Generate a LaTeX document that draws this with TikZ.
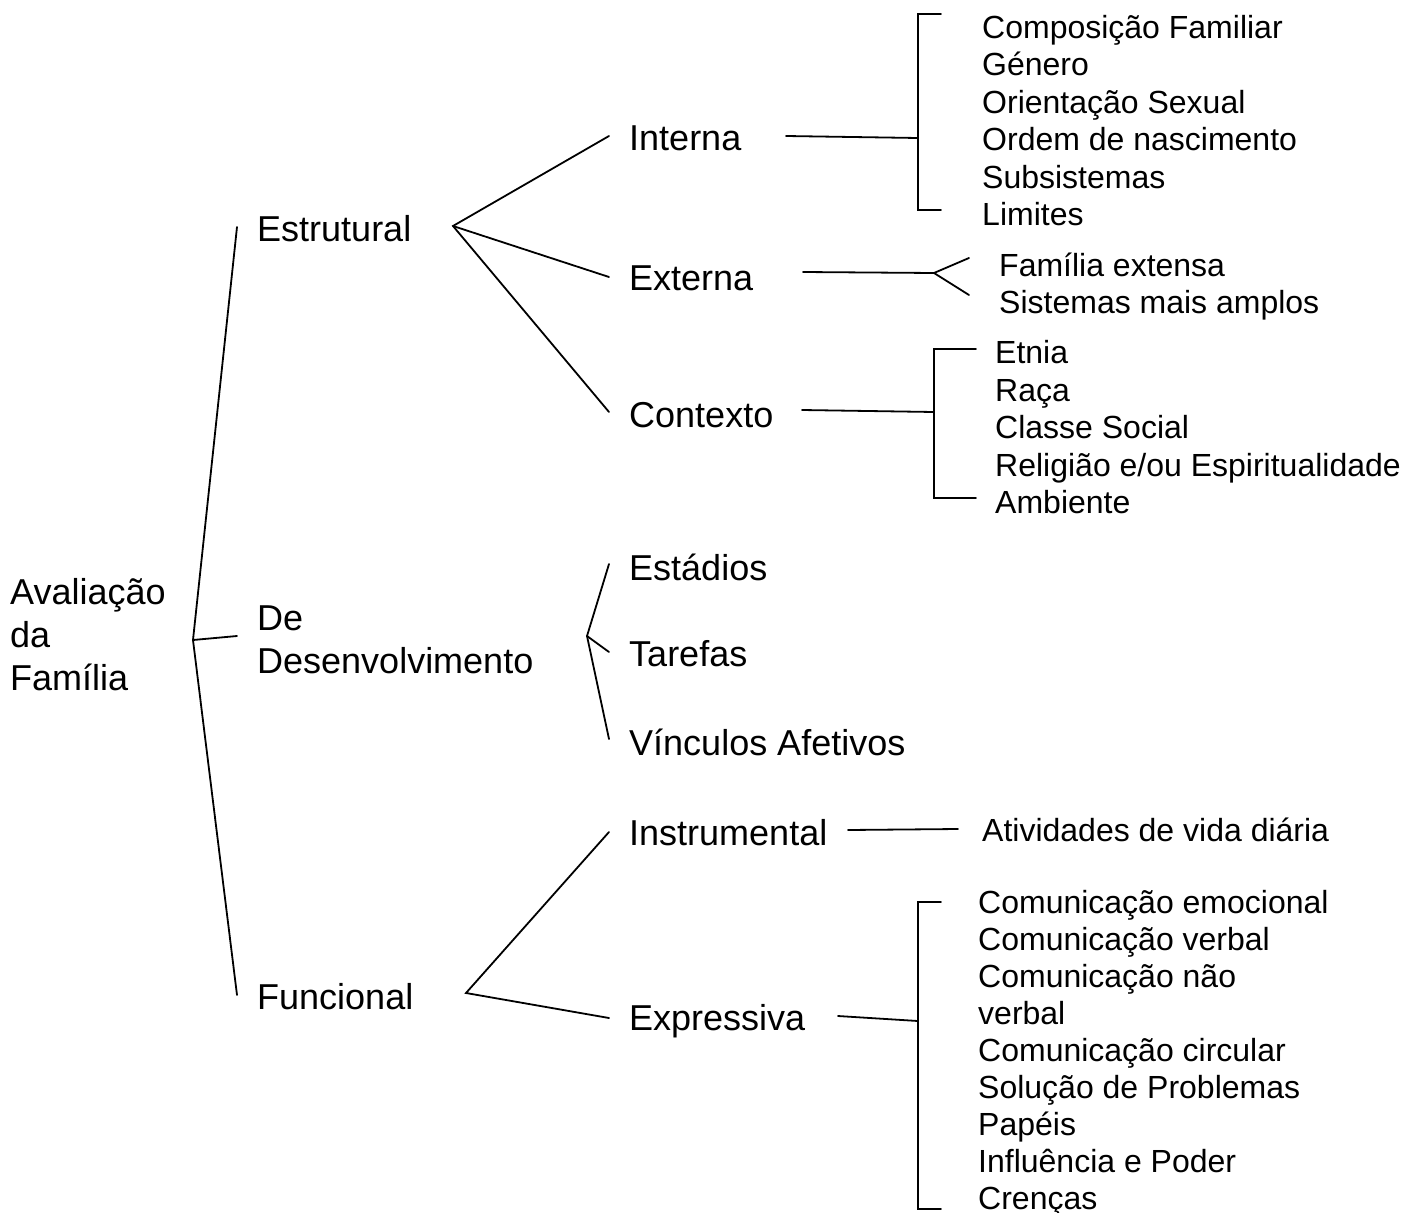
\documentclass[tikz,border=0pt]{standalone}
\usepackage{fontspec}
\setmainfont{Liberation Sans}
\begin{document}
\begin{tikzpicture}[x=1pt,y=-1pt,
  big/.style={font=\fontsize{36}{43}\selectfont, inner sep=0pt, anchor=base west, align=left},
  small/.style={font=\fontsize{32}{37.4}\selectfont, inner sep=0pt, anchor=base west, align=left},
  smallb/.style={font=\fontsize{32}{37}\selectfont, inner sep=0pt, anchor=base west, align=left},
  ln/.style={line width=1.8pt, line cap=round, line join=miter}]
\useasboundingbox (0,0) rectangle (1418,1212);

% text nodes (multi-line nodes are placed by the baseline of their last line)
\node[big] (root) at (10,690) {Avaliação\\da\\Família};
\node[big] (est) at (257,241) {Estrutural};
\node[big] (des) at (257,673) {De\\Desenvolvimento};
\node[big] (fun) at (257,1009) {Funcional};
\node[big] (int) at (629,150) {Interna};
\node[big] (ext) at (629,290) {Externa};
\node[big] (ctx) at (629,427) {Contexto};
\node[big] (esd) at (629,580) {Estádios};
\node[big] (tar) at (629,666) {Tarefas};
\node[big] (vin) at (629,755) {Vínculos Afetivos};
\node[big] (ins) at (629,845) {Instrumental};
\node[big] (exp) at (629,1030) {Expressiva};
\node[small] (intl) at (982,225.5) {Composição Familiar\\Género\\Orientação Sexual\\Ordem de nascimento\\Subsistemas\\Limites};
\node[small] (extl) at (999,313.5) {Família extensa\\Sistemas mais amplos};
\node[small] (ctxl) at (995,513.5) {Etnia\\Raça\\Classe Social\\Religião e/ou Espiritualidade\\Ambiente};
\node[small] (insl) at (982,841.5) {Atividades de vida diária};
\node[smallb] (expl) at (978,1209.5) {Comunicação emocional\\Comunicação verbal\\Comunicação não\\verbal\\Comunicação circular\\Solução de Problemas\\Papéis\\Influência e Poder\\Crenças};

% connector points
\coordinate (r0) at (193,640);
\coordinate (rt) at (237,227);
\coordinate (rd) at (237,636);
\coordinate (rb) at (237,995);
\coordinate (e0) at (453,226);
\coordinate (e1) at (609,136);
\coordinate (e2) at (609,277);
\coordinate (e3) at (609,412);
\coordinate (i1) at (786,136);
\coordinate (i2) at (918,138);
\coordinate (x1) at (803,272);
\coordinate (x2) at (934,273);
\coordinate (x3) at (969,258);
\coordinate (x4) at (969,295);
\coordinate (c1) at (802,410);
\coordinate (c2) at (934,412);
\coordinate (d0) at (587,636);
\coordinate (d1) at (609,564);
\coordinate (d2) at (609,652);
\coordinate (d3) at (609,739);
\coordinate (f0) at (466,993);
\coordinate (f1) at (609,832);
\coordinate (f2) at (609,1018);
\coordinate (n1) at (848,830);
\coordinate (n2) at (958,829);
\coordinate (p1) at (838,1016);
\coordinate (p2) at (918,1021);

% connectors
\draw[ln] (rt) -- (r0) -- (rb);
\draw[ln] (r0) -- (rd);
\draw[ln] (e1) -- (e0) -- (e3);
\draw[ln] (e0) -- (e2);
\draw[ln] (i1) -- (i2);
\draw[ln] (941,14) -- (918,14) -- (918,210) -- (941,210);
\draw[ln] (x1) -- (x2);
\draw[ln] (x3) -- (x2) -- (x4);
\draw[ln] (c1) -- (c2);
\draw[ln] (976,349) -- (934,349) -- (934,498) -- (976,498);
\draw[ln] (d1) -- (d0) -- (d3);
\draw[ln] (d0) -- (d2);
\draw[ln] (f1) -- (f0) -- (f2);
\draw[ln] (n1) -- (n2);
\draw[ln] (p1) -- (p2);
\draw[ln] (941,902) -- (918,902) -- (918,1209) -- (941,1209);
\end{tikzpicture}
\end{document}
